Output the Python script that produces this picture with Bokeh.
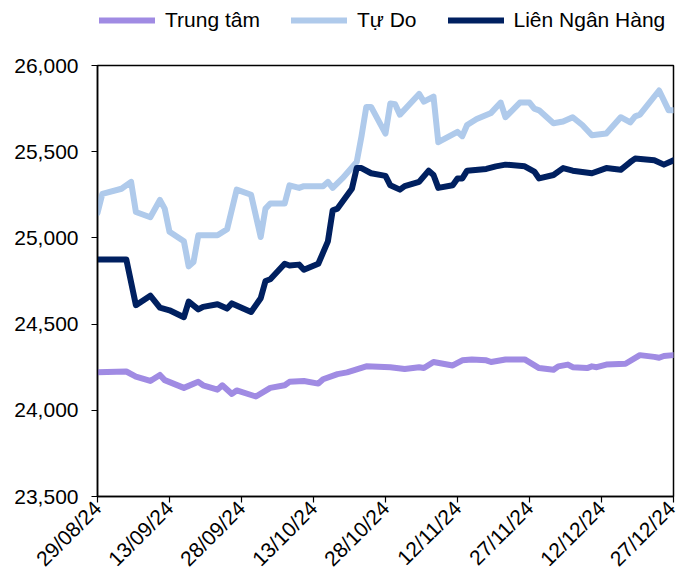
import pandas as pd
from bokeh.plotting import figure
from bokeh.layouts import column
from bokeh.models import (Range1d, FixedTicker, DatetimeTickFormatter,
                          NumeralTickFormatter, Legend, LegendItem)
from bokeh.embed import file_html
from bokeh.resources import INLINE

# Tỷ giá USD/VND: Trung tâm, Tự Do, Liên Ngân Hàng
tt_dates = ["2024-08-29", "2024-09-04", "2024-09-06", "2024-09-09", "2024-09-11",
            "2024-09-12", "2024-09-16", "2024-09-19", "2024-09-20", "2024-09-23",
            "2024-09-24", "2024-09-26", "2024-09-27", "2024-10-01", "2024-10-04",
            "2024-10-07", "2024-10-08", "2024-10-11", "2024-10-14", "2024-10-15",
            "2024-10-18", "2024-10-20", "2024-10-24", "2024-10-29", "2024-11-01",
            "2024-11-04", "2024-11-05", "2024-11-07", "2024-11-11", "2024-11-13",
            "2024-11-15", "2024-11-18", "2024-11-19", "2024-11-22", "2024-11-26",
            "2024-11-29", "2024-12-02", "2024-12-03", "2024-12-05", "2024-12-06",
            "2024-12-09", "2024-12-10", "2024-12-11", "2024-12-13", "2024-12-17",
            "2024-12-20", "2024-12-23", "2024-12-24", "2024-12-25", "2024-12-27"]
tt_values = [24220, 24225, 24195, 24170, 24205, 24175, 24130, 24165, 24145, 24120,
             24145, 24095, 24115, 24080, 24130, 24145, 24165, 24170, 24155, 24180,
             24210, 24220, 24255, 24250, 24240, 24250, 24245, 24280, 24260, 24290,
             24295, 24290, 24280, 24295, 24295, 24245, 24235, 24255, 24265, 24250,
             24245, 24255, 24250, 24265, 24270, 24320, 24310, 24305, 24315, 24320]

td_dates = ["2024-08-29", "2024-08-30", "2024-09-03", "2024-09-05", "2024-09-06",
            "2024-09-09", "2024-09-11", "2024-09-12", "2024-09-13", "2024-09-16",
            "2024-09-17", "2024-09-18", "2024-09-19", "2024-09-23", "2024-09-25",
            "2024-09-27", "2024-09-30", "2024-10-02", "2024-10-03", "2024-10-04",
            "2024-10-07", "2024-10-08", "2024-10-10", "2024-10-11", "2024-10-15",
            "2024-10-16", "2024-10-17", "2024-10-19", "2024-10-22", "2024-10-23",
            "2024-10-24", "2024-10-25", "2024-10-28", "2024-10-29", "2024-10-30",
            "2024-10-31", "2024-11-04", "2024-11-05", "2024-11-07", "2024-11-08",
            "2024-11-12", "2024-11-13", "2024-11-14", "2024-11-16", "2024-11-19",
            "2024-11-21", "2024-11-22", "2024-11-25", "2024-11-27", "2024-11-28",
            "2024-11-29", "2024-12-02", "2024-12-04", "2024-12-06", "2024-12-08",
            "2024-12-10", "2024-12-13", "2024-12-16", "2024-12-18", "2024-12-19",
            "2024-12-20", "2024-12-24", "2024-12-26", "2024-12-27"]
td_values = [25145, 25255, 25285, 25325, 25150, 25120, 25220, 25170, 25035, 24980,
             24835, 24860, 25015, 25015, 25050, 25280, 25250, 25005, 25170, 25200,
             25200, 25305, 25290, 25300, 25300, 25325, 25290, 25345, 25440, 25590,
             25760, 25760, 25605, 25780, 25775, 25715, 25835, 25790, 25820, 25555,
             25615, 25590, 25655, 25690, 25725, 25785, 25700, 25785, 25785, 25750,
             25740, 25665, 25675, 25700, 25655, 25595, 25605, 25700, 25670, 25705,
             25715, 25855, 25740, 25740]

lnh_dates = ["2024-08-29", "2024-09-04", "2024-09-06", "2024-09-09", "2024-09-11",
             "2024-09-13", "2024-09-16", "2024-09-17", "2024-09-19", "2024-09-20",
             "2024-09-23", "2024-09-25", "2024-09-26", "2024-09-30", "2024-10-02",
             "2024-10-03", "2024-10-04", "2024-10-07", "2024-10-08", "2024-10-10",
             "2024-10-11", "2024-10-14", "2024-10-16", "2024-10-17", "2024-10-18",
             "2024-10-21", "2024-10-22", "2024-10-23", "2024-10-25", "2024-10-28",
             "2024-10-29", "2024-10-31", "2024-11-01", "2024-11-04", "2024-11-06",
             "2024-11-07", "2024-11-08", "2024-11-11", "2024-11-12", "2024-11-13",
             "2024-11-14", "2024-11-18", "2024-11-20", "2024-11-22", "2024-11-26",
             "2024-11-28", "2024-11-29", "2024-12-02", "2024-12-04", "2024-12-06",
             "2024-12-10", "2024-12-13", "2024-12-16", "2024-12-18", "2024-12-19",
             "2024-12-23", "2024-12-25", "2024-12-27"]
lnh_values = [24875, 24875, 24610, 24665, 24595, 24580, 24540, 24630, 24585, 24600,
              24615, 24590, 24620, 24570, 24650, 24750, 24760, 24850, 24840, 24845,
              24815, 24850, 24980, 25160, 25170, 25285, 25405, 25405, 25375, 25360,
              25305, 25280, 25300, 25325, 25390, 25365, 25290, 25305, 25345, 25345,
              25390, 25400, 25415, 25425, 25415, 25385, 25345, 25365, 25405, 25390,
              25375, 25405, 25395, 25440, 25460, 25450, 25425, 25450]

tick_dates = ["2024-08-29", "2024-09-13", "2024-09-28", "2024-10-13", "2024-10-28",
              "2024-11-12", "2024-11-27", "2024-12-12", "2024-12-27"]
y_ticks = [23500, 24000, 24500, 25000, 25500, 26000]

series_names = ["Trung tâm", "Tự Do", "Liên Ngân Hàng"]
series_colors = ["#A08BE3", "#AFCAEB", "#002060"]
series = list(zip(series_names,
                  [tt_dates, td_dates, lnh_dates],
                  [tt_values, td_values, lnh_values],
                  series_colors))

FONT = "Liberation Sans"
LINE_W = 6

# ---- main chart ----
x_start = pd.Timestamp(tick_dates[0])
x_end = pd.Timestamp(tick_dates[-1])

p = figure(width=679, height=531, x_axis_type="datetime",
           output_backend="svg", toolbar_location=None,
           x_range=Range1d(x_start, x_end), y_range=Range1d(23500, 26000),
           min_border_left=97, min_border_right=6,
           min_border_top=15, min_border_bottom=84)

p.background_fill_color = "white"
p.border_fill_color = "white"
p.outline_line_color = "black"
p.outline_line_width = 1.5
p.xgrid.visible = False
p.ygrid.visible = False

for name, dates, vals, color in series:
    p.line(pd.to_datetime(dates), vals, line_color=color, line_width=LINE_W,
           line_join="round", line_cap="round")

xa = p.xaxis[0]
xa.ticker = FixedTicker(ticks=[pd.Timestamp(d).value / 1e6 for d in tick_dates])
xa.formatter = DatetimeTickFormatter(days="%d/%m/%y", months="%d/%m/%y")
xa.major_label_orientation = 0.785398
ya = p.yaxis[0]
ya.ticker = FixedTicker(ticks=y_ticks)
ya.formatter = NumeralTickFormatter(format="0,0")

for ax in (xa, ya):
    ax.axis_line_color = "black"
    ax.axis_line_width = 1.5
    ax.major_tick_line_color = "black"
    ax.major_tick_line_width = 1.2
    ax.major_tick_in = 0
    ax.major_tick_out = 6
    ax.minor_tick_line_color = None
    ax.major_label_text_font = FONT
    ax.major_label_text_font_size = "21px"
    ax.major_label_text_color = "black"
ya.major_label_standoff = 13
xa.major_label_standoff = 2

# ---- legend strip on top (its frame lines up with the chart frame) ----
lg = figure(width=679, height=50, output_backend="svg", toolbar_location=None,
            x_range=Range1d(0, 1), y_range=Range1d(0, 1),
            min_border_left=97, min_border_right=6,
            min_border_top=0, min_border_bottom=0)
lg.axis.visible = False
lg.grid.visible = False
lg.outline_line_color = None
lg.background_fill_color = "white"
lg.border_fill_color = "white"

nan = float("nan")
items = []
for name, color in zip(series_names, series_colors):
    key = lg.line([nan], [nan], line_color=color, line_width=LINE_W,
                  line_cap="round")
    items.append(LegendItem(label=name, renderers=[key]))

legend = Legend(items=items, orientation="horizontal", location=(2, 18),
                label_text_font=FONT, label_text_font_size="21px",
                label_text_color="black", glyph_width=56, glyph_height=20,
                label_standoff=10, spacing=31, padding=0, margin=0,
                border_line_color=None, background_fill_alpha=0)
lg.add_layout(legend, "center")

layout = column(lg, p, spacing=0)

open("out.html", "w").write(file_html(layout, INLINE))
